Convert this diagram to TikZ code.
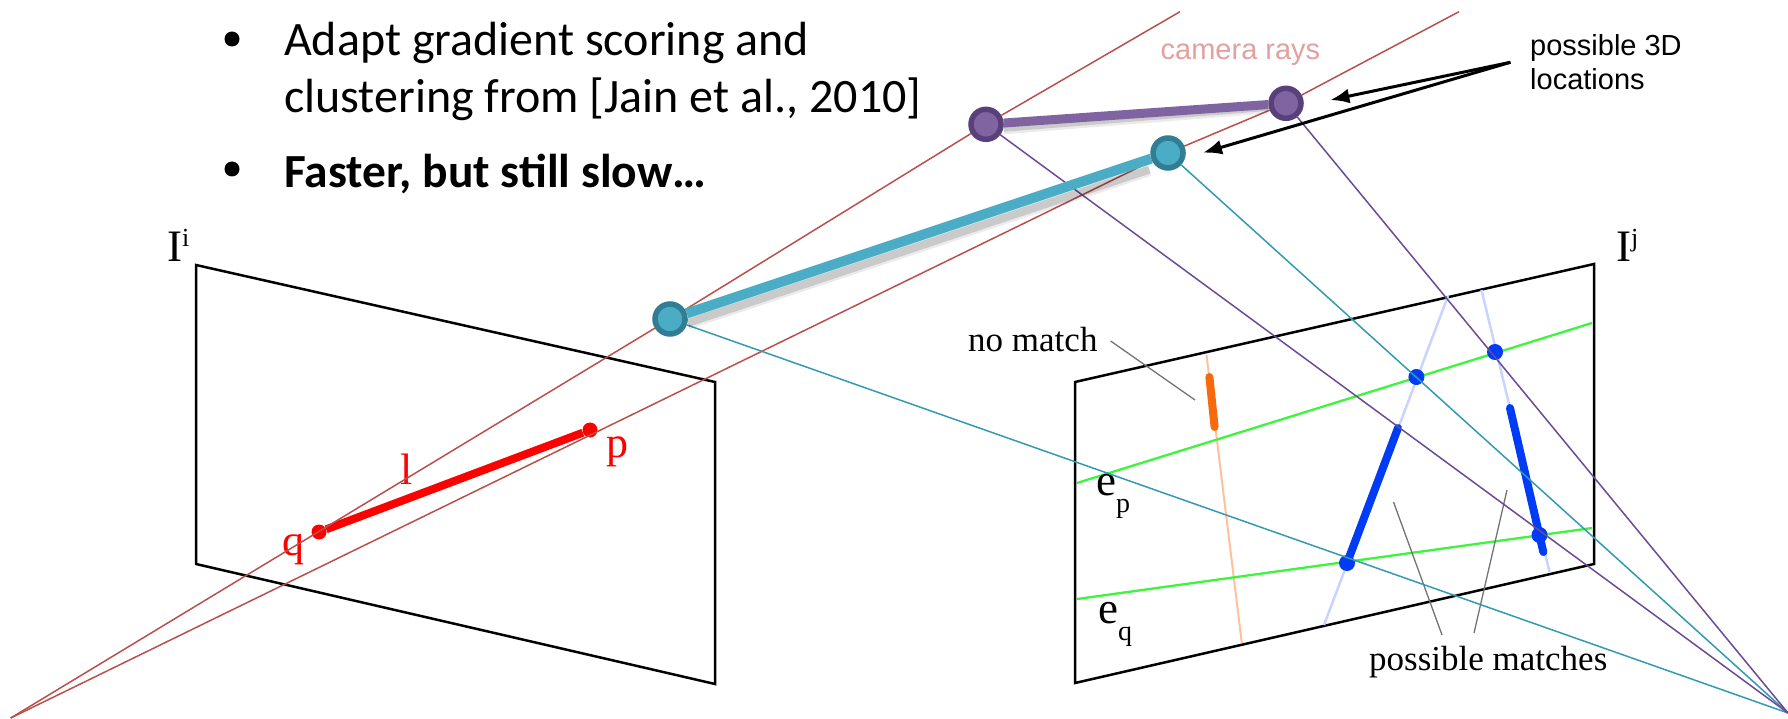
\documentclass[tikz,border=0pt]{standalone}
\usepackage{fontspec}
\usepackage{xcolor}
\usetikzlibrary{arrows.meta}
\setmainfont{Liberation Serif}
\newfontfamily\slidefont{Carlito}
\newfontfamily\notefont{Liberation Sans}
\definecolor{rayred}{RGB}{185,80,76}
\definecolor{raypale}{RGB}{226,160,158}
\definecolor{camteal}{RGB}{75,172,198}
\definecolor{camtealdark}{RGB}{49,125,147}
\definecolor{tealray}{RGB}{52,154,176}
\definecolor{campurple}{RGB}{128,100,162}
\definecolor{campurpledark}{RGB}{90,64,122}
\definecolor{purpleray}{RGB}{106,76,150}
\definecolor{epiline}{RGB}{60,245,60}
\definecolor{matchblue}{RGB}{0,60,245}
\definecolor{matchpale}{RGB}{200,212,255}
\definecolor{nomatch}{RGB}{247,106,11}
\definecolor{nomatchpale}{RGB}{255,192,154}
\newcommand{\upmark}[1]{\raisebox{16pt}{\fontsize{26}{26}\selectfont #1}}
\newcommand{\downmark}[1]{\raisebox{-17pt}{\fontsize{28}{28}\selectfont #1}}

\begin{document}
\begin{tikzpicture}[x=1pt,y=-1pt,
        every node/.style={inner sep=0pt},
        frame/.style={draw=black,line width=2.5pt,line join=miter},
        ray/.style={draw=rayred,line width=1.5pt},
        tealline/.style={draw=tealray,line width=1.5pt},
        purpleline/.style={draw=purpleray,line width=1.5pt},
        epi/.style={draw=epiline,line width=2.3pt},
        leader/.style={draw=black!55,line width=1.3pt},
        segment/.style={line width=8pt,line cap=round},
        camdot/.style={circle,line width=5.5pt,minimum size=30pt},
        dotblue/.style={circle,fill=matchblue,minimum size=16pt},
        dotred/.style={circle,fill=red,minimum size=15pt},
        bullet/.style={circle,fill=black,minimum size=15pt},
        slide/.style={anchor=base west,font=\slidefont\fontsize{48}{48}\selectfont},
        note/.style={anchor=north west,align=left,font=\notefont\fontsize{29}{34}\selectfont},
        serif/.style={anchor=base west,font=\fontsize{35}{35}\selectfont},
        big/.style={anchor=base west,font=\fontsize{45}{45}\selectfont},
        pointer/.style={-{Latex[length=19pt,width=15pt]},line width=3pt}]
        \useasboundingbox (0,0) rectangle (1788,719);
        \node[bullet] (b1) at (232,39) {};
        \node[bullet] (b2) at (232,169) {};
        \node[slide] (adapt) at (284,56) {Adapt gradient scoring and};
        \node[slide] (cluster) at (284,113) {clustering from [Jain et al., 2010]};
        \node[slide,font=\slidefont\bfseries\fontsize{47.5}{48}\selectfont] (faster) at (284,188) {Faster, but still slow…};
        % image planes
        \draw[frame] (196,265) -- (715,382) -- (715,684) -- (196,564) -- cycle;
        \draw[frame] (1075,382) -- (1594,264) -- (1594,564) -- (1075,683) -- cycle;
        \node[big] (imi) at (167,262) {I\upmark{i}};
        \node[big] (imj) at (1616,262) {I\upmark{j}};
        % left image segment
        \node[dotred] (q) at (319,532) {};
        \node[dotred] (p) at (590,430) {};
        \draw[red,line width=8pt] (q) -- (p);
        \node[big,text=red,font=\fontsize{44}{44}\selectfont] (lp) at (606,457) {p};
        \node[big,text=red,font=\fontsize{44}{44}\selectfont] (lq) at (282,555) {q};
        \node[big,text=red,font=\fontsize{44}{44}\selectfont] (ll) at (400,484) {l};
        % right image
        \coordinate (or1) at (1206.5,355);
        \coordinate (or2) at (1241.8,643);
        \coordinate (pb1) at (1324,625);
        \coordinate (pb2) at (1448,296);
        \coordinate (pc1) at (1481.5,290);
        \coordinate (pc2) at (1549.5,572);
        \coordinate (ep1) at (1077,483);
        \coordinate (ep2) at (1592,323);
        \coordinate (eq1) at (1077,599);
        \coordinate (eq2) at (1592,528);
        \draw[nomatchpale,line width=2pt] (or1) -- (or2);
        \draw[matchpale,line width=2.5pt] (pb1) -- (pb2);
        \draw[matchpale,line width=2.5pt] (pc1) -- (pc2);
        \draw[epi] (ep1) -- (ep2);
        \draw[epi] (eq1) -- (eq2);
        \coordinate (on1) at (1209.4,377);
        \coordinate (on2) at (1214.6,427);
        \draw[nomatch,segment] (on1) -- (on2);
        \node[dotblue] (mp1) at (1416.4,377) {};
        \node[dotblue] (mp2) at (1495,352) {};
        \node[dotblue] (mq1) at (1347,563) {};
        \node[dotblue] (mq2) at (1539.5,535) {};
        \coordinate (s1top) at (1398,428);
        \coordinate (s2top) at (1510,408);
        \coordinate (s2low) at (1543.3,552);
        \draw[matchblue,segment] (mq1.center) -- (s1top);
        \draw[matchblue,segment] (s2top) -- (s2low);
        \node[serif] (nm) at (968,351) {no match};
        \node[serif] (pm) at (1369,670) {possible matches};
        \node[big] (ep) at (1096,495) {e\downmark{p}};
        \node[big] (eq) at (1098,623) {e\downmark{q}};
        \coordinate (nmend) at (1195,400);
        \coordinate (pma) at (1393.5,502);
        \coordinate (pmb) at (1507,490);
        \coordinate (pmc) at (1442,635);
        \coordinate (pmd) at (1474,633);
        \draw[leader] (1110.6,341) -- (nmend);
        \draw[leader] (pma) -- (pmc);
        \draw[leader] (pmb) -- (pmd);
        % 3D hypotheses
        \coordinate (vanl) at (10.7,718);
        \coordinate (vanr) at (1788,713);
        \coordinate (topa) at (1180,11.7);
        \coordinate (topb) at (1459,11.7);
        \node[camdot,draw=camtealdark,fill=camteal] (t1) at (670,319) {};
        \node[camdot,draw=camtealdark,fill=camteal] (t2) at (1168,153) {};
        \node[camdot,draw=campurpledark,fill=campurple] (v1) at (986,124.3) {};
        \node[camdot,draw=campurpledark,fill=campurple] (v2) at (1286,103.3) {};
        \draw[ray] (vanl) -- (t1) -- (v1) -- (topa);
        \draw[ray] (vanl) -- (t2) -- (v2) -- (topb);
        \draw[tealline] (t1) -- (vanr);
        \draw[tealline] (t2) -- (vanr);
        \draw[purpleline] (v1) -- (vanr);
        \draw[purpleline] (v2) -- (vanr);
        \draw[black,opacity=.08,line width=11pt] ([yshift=-5pt]t1.east) -- ([xshift=-6pt,yshift=-5pt]t2.south west);
        \draw[black,opacity=.14,line width=8pt] ([yshift=-4pt]t1.east) -- ([xshift=-6pt,yshift=-4pt]t2.south west);
        \draw[black,opacity=.08,line width=10pt] ([yshift=-5pt]v1.east) -- ([yshift=-5pt]v2.west);
        \draw[black,opacity=.14,line width=7pt] ([yshift=-4pt]v1.east) -- ([yshift=-4pt]v2.west);
        \draw[camteal,line width=10pt] (t1) -- (t2);
        \draw[campurple,line width=9pt] (v1) -- (v2);
        \node[note,anchor=base west,text=raypale] (rays) at (1160.5,60) {camera rays};
        \node[note] (loc) at (1530,34) {possible 3D\\locations};
        \coordinate (locend) at (1510.4,62.3);
        \coordinate (hitv) at (1330.4,100);
        \coordinate (hitt) at (1203,152.7);
        \draw[pointer] (locend) -- (hitv);
        \draw[pointer] (locend) -- (hitt);
\end{tikzpicture}
\end{document}
